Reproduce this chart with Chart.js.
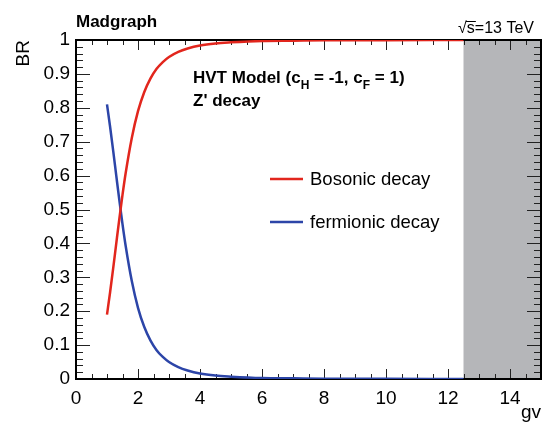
<!DOCTYPE html>
<html>
<head>
<meta charset="utf-8">
<script src="https://cdn.jsdelivr.net/npm/chart.js@4.4.1/dist/chart.umd.min.js"></script>
<style>
html,body{margin:0;padding:0;background:#fff;}
#wrap{width:546px;height:425px;}
</style>
</head>
<body>
<div id="wrap"><canvas id="chartBR" width="546" height="425"></canvas></div>
<script>
// values
var gvValues    = [1, 1.1, 1.2, 1.3, 1.4, 1.5, 1.6, 1.8, 2, 2.2, 2.4, 2.6, 2.8, 3, 3.3, 3.6, 4, 4.5, 5, 6, 7, 8, 10, 12.5];
var bosonicBR   = [0.19, 0.256, 0.327, 0.401, 0.474, 0.543, 0.606, 0.711, 0.790, 0.846, 0.886, 0.915, 0.935, 0.950, 0.965, 0.975, 0.984, 0.990, 0.993, 0.997, 0.998, 0.999, 0.9996, 0.9998];
var fermionicBR = [0.81, 0.744, 0.673, 0.599, 0.526, 0.457, 0.394, 0.289, 0.210, 0.154, 0.114, 0.085, 0.065, 0.050, 0.035, 0.025, 0.016, 0.010, 0.007, 0.003, 0.002, 0.001, 0.0004, 0.0002];
var seriesLabels = ["Bosonic decay", "fermionic decay"];
var xTickValues = [0, 2, 4, 6, 8, 10, 12, 14];
var yTickValues = [0, 0.1, 0.2, 0.3, 0.4, 0.5, 0.6, 0.7, 0.8, 0.9, 1];
var xRange = [0, 15];
var yRange = [0, 1];
var shadeFrom = 12.5;

var FONT = "'Liberation Sans', Arial, Helvetica, sans-serif";

function toPoints(xs, ys){
	var out = [];
	for (var i = 0; i < xs.length; i++){
		out.push({x: xs[i], y: ys[i]});
	}
	return out;
}

function line(c, x1, y1, x2, y2){
	c.beginPath();
	c.moveTo(x1, y1);
	c.lineTo(x2, y2);
	c.stroke();
}

// ROOT style frame: grey band, inward ticks on all four sides, texts and legend
var framePlugin = {
	id: "frame",
	beforeDatasetsDraw: function(chart){
		var c = chart.ctx, a = chart.chartArea, xs = chart.scales.x, ys = chart.scales.y;
		c.save();
		var x0 = xs.getPixelForValue(shadeFrom);
		c.fillStyle = "#b5b6b9";
		c.fillRect(x0, a.top, a.right - x0, a.bottom - a.top);

		c.strokeStyle = "#222";
		c.lineWidth = 1;
		var i, px, L;
		for (i = 0; i <= 30; i++){
			px = Math.round(xs.getPixelForValue(i * 0.5)) + 0.5;
			L = (i % 4 === 0) ? 10 : 5;
			line(c, px, a.bottom, px, a.bottom - L);
			line(c, px, a.top, px, a.top + L);
		}
		for (i = 0; i <= 50; i++){
			px = Math.round(ys.getPixelForValue(i * 0.02)) + 0.5;
			L = (i % 5 === 0) ? 14 : 7;
			line(c, a.left, px, a.left + L, px);
			line(c, a.right, px, a.right - L, px);
		}
		c.strokeStyle = "#000";
		c.lineWidth = 2;
		c.strokeRect(a.left, a.top, a.right - a.left, a.bottom - a.top);
		c.restore();
	},
	afterDraw: function(chart){
		var c = chart.ctx;
		c.save();
		c.fillStyle = "#000";
		c.textBaseline = "alphabetic";

		c.font = "bold 17px " + FONT;
		c.fillText("Madgraph", 76, 27);

		// sqrt(s) label
		c.font = "16px " + FONT;
		var full = "\u221As=13 TeV";
		var wFull = c.measureText(full).width;
		var xs0 = 534 - wFull;
		c.fillText(full, xs0, 33);
		var wRoot = c.measureText("\u221A").width;
		var wS = c.measureText("s").width;
		c.lineWidth = 1;
		c.strokeStyle = "#000";
		line(c, xs0 + wRoot - 1, 21.5, xs0 + wRoot + wS + 1, 21.5);

		// model text with subscripts
		var x = 193, y = 83;
		var parts = [["HVT Model (c", 0], ["H", 1], [" = -1, c", 0], ["F", 1], [" = 1)", 0]];
		for (var i = 0; i < parts.length; i++){
			if (parts[i][1]){
				c.font = "bold 12px " + FONT;
				c.fillText(parts[i][0], x, y + 6);
			} else {
				c.font = "bold 17px " + FONT;
				c.fillText(parts[i][0], x, y);
			}
			x += c.measureText(parts[i][0]).width;
		}
		c.font = "bold 17px " + FONT;
		c.fillText("Z' decay", 193, 106);

		// legend
		var ds = chart.data.datasets;
		var ly = [179, 222];
		c.font = "18.5px " + FONT;
		c.textBaseline = "middle";
		for (var k = 0; k < 2; k++){
			c.strokeStyle = ds[k].borderColor;
			c.lineWidth = 2.5;
			line(c, 270, ly[k], 303, ly[k]);
			c.fillStyle = "#000";
			c.fillText(ds[k].label, 310, ly[k] + 1);
		}
		c.restore();
	}
};

var ctx = document.getElementById("chartBR");
var brChart = new Chart(ctx, {
	type: "line",
	data: {
		datasets: [
			{label: seriesLabels[0], data: toPoints(gvValues, bosonicBR), borderColor: "#e2261d", borderWidth: 2.5, pointRadius: 0, cubicInterpolationMode: "monotone", fill: false},
			{label: seriesLabels[1], data: toPoints(gvValues, fermionicBR), borderColor: "#2c45a8", borderWidth: 2.5, pointRadius: 0, cubicInterpolationMode: "monotone", fill: false}
		]
	},
	options: {
		responsive: false,
		animation: false,
		layout: {padding: {left: 0, right: 5, top: 40, bottom: 0}},
		plugins: {legend: {display: false}, tooltip: {enabled: false}},
		scales: {
			x: {
				type: "linear", min: xRange[0], max: xRange[1],
				afterBuildTicks: function(s){ s.ticks = xTickValues.map(function(v){ return {value: v}; }); },
				afterFit: function(s){ s.height = 46; },
				grid: {display: false, drawTicks: false},
				border: {display: false},
				ticks: {padding: 8, color: "#000", maxRotation: 0, autoSkip: false, font: {family: FONT, size: 19},
					callback: function(v){ return String(v); }},
				title: {display: true, text: "gv", align: "end", color: "#000", font: {family: FONT, size: 19}, padding: {top: 0, bottom: 1}}
			},
			y: {
				type: "linear", min: yRange[0], max: yRange[1],
				afterBuildTicks: function(s){ s.ticks = yTickValues.map(function(v){ return {value: v}; }); },
				afterFit: function(s){ s.width = 76; },
				grid: {display: false, drawTicks: false},
				border: {display: false},
				ticks: {padding: 6, color: "#000", autoSkip: false, font: {family: FONT, size: 19},
					callback: function(v){ return String(v); }},
				title: {display: true, text: "BR", align: "end", color: "#000", font: {family: FONT, size: 19}, padding: {top: 12, bottom: 0}}
			}
		}
	},
	plugins: [framePlugin]
});
</script>
</body>
</html>
